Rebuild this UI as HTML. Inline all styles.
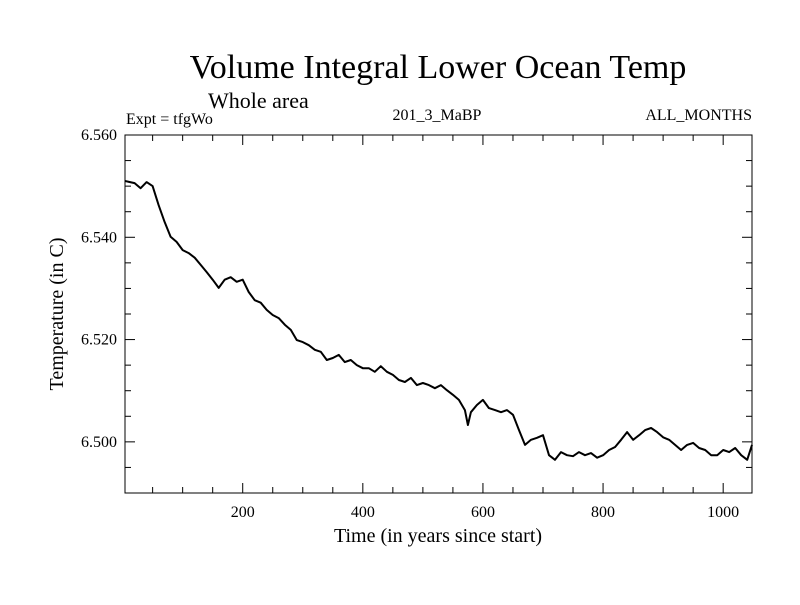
<!DOCTYPE html>
<html><head><meta charset="utf-8"><style>
body{margin:0;background:#fff}
svg text{font-family:"Liberation Serif",serif;fill:#000}
</style></head><body>
<svg id="c" width="800" height="600">
<text x="438" y="78" font-size="34" text-anchor="middle">Volume Integral Lower Ocean Temp</text>
<text x="208" y="108" font-size="22">Whole area</text>
<text x="126" y="124" font-size="16">Expt = tfgWo</text>
<text x="437" y="120" font-size="16" text-anchor="middle">201_3_MaBP</text>
<text x="752" y="120" font-size="16" text-anchor="end">ALL_MONTHS</text>
<text x="438" y="542" font-size="20" text-anchor="middle">Time (in years since start)</text>
<text transform="translate(63,314) rotate(-90)" font-size="20" text-anchor="middle">Temperature (in C)</text>
<g id="ticks"></g>
<path id="line" fill="none" stroke="#000" stroke-width="2" stroke-linejoin="round"></path>
<rect x="125" y="135" width="627" height="358" fill="none" stroke="#000" stroke-width="1"></rect>
</svg>
<script>
const years=[4,20,30,40,50,60,70,80,90,100,110,120,130,140,150,160,170,180,190,200,210,220,230,240,250,260,270,280,290,300,310,320,330,340,350,360,370,380,390,400,410,420,430,440,450,460,470,480,490,500,510,520,530,540,550,560,570,575,580,590,600,610,620,630,640,650,660,670,680,690,700,710,720,730,740,750,760,770,780,790,800,810,820,830,840,850,860,870,880,890,900,910,920,930,940,950,960,970,980,990,1000,1010,1020,1030,1040,1048];
const temps=[6.5510,6.5506,6.5496,6.5508,6.5500,6.5463,6.5430,6.5401,6.5391,6.5375,6.5369,6.5360,6.5346,6.5332,6.5317,6.5301,6.5317,6.5322,6.5313,6.5317,6.5293,6.5277,6.5272,6.5258,6.5248,6.5242,6.5229,6.5219,6.5199,6.5195,6.5189,6.5180,6.5176,6.5160,6.5164,6.5170,6.5156,6.5160,6.5150,6.5144,6.5144,6.5137,6.5148,6.5137,6.5131,6.5121,6.5117,6.5125,6.5111,6.5115,6.5111,6.5105,6.5111,6.5101,6.5092,6.5082,6.5062,6.5033,6.5058,6.5072,6.5082,6.5066,6.5062,6.5058,6.5062,6.5053,6.5023,6.4994,6.5004,6.5008,6.5013,6.4974,6.4965,6.4980,6.4974,6.4972,6.4980,6.4974,6.4978,6.4969,6.4974,6.4984,6.4990,6.5004,6.5019,6.5004,6.5013,6.5023,6.5027,6.5019,6.5009,6.5004,6.4994,6.4984,6.4994,6.4998,6.4988,6.4984,6.4974,6.4974,6.4984,6.4980,6.4988,6.4974,6.4965,6.4994];
const xTicks=[200,400,600,800,1000];
const yTicks=[6.500,6.520,6.540,6.560];
const yLabels=["6.500","6.520","6.540","6.560"];
const X0=125,X1=752,Y0=493,Y1=135,XMIN=4,XMAX=1048,YMIN=6.490,YMAX=6.560;
const sx=v=>X0+(v-XMIN)/(XMAX-XMIN)*(X1-X0);
const sy=v=>Y0-(v-YMIN)/(YMAX-YMIN)*(Y0-Y1);
const NS="http://www.w3.org/2000/svg",g=document.getElementById('ticks');
function ln(x1,y1,x2,y2,name){const l=document.createElementNS(NS,'line');
l.setAttribute('x1',x1);l.setAttribute('y1',y1);l.setAttribute('x2',x2);l.setAttribute('y2',y2);l.setAttribute('stroke','#000');


g.appendChild(l);}
function tx(x,y,s,anchor,name){const t=document.createElementNS(NS,'text');t.setAttribute('x',x);t.setAttribute('y',y);t.setAttribute('font-size','16');t.setAttribute('text-anchor',anchor);t.textContent=s;


g.appendChild(t);}
for(let v=50;v<=XMAX;v+=50){const x=sx(v),L=(v%200===0)?10:6;ln(x,Y0,x,Y0-L,'x-tick');ln(x,Y1,x,Y1+L,'x-tick-top');}
xTicks.forEach(v=>tx(sx(v),517,String(v),'middle','x-tick-label'));
for(let v=YMIN+0.005;v<=YMAX+1e-9;v+=0.005){const y=sy(v),maj=Math.abs(Math.round(v*1000)%20)<1e-6,L=maj?10:6;ln(X0,y,X0+L,y,'y-tick');ln(X1,y,X1-L,y,'y-tick-right');}
yTicks.forEach((v,i)=>tx(117,sy(v)+5,yLabels[i],'end','y-tick-label'));
document.getElementById('line').setAttribute('d',years.map((y,i)=>(i?'L':'M')+sx(y).toFixed(1)+','+sy(temps[i]).toFixed(1)).join(''));
</script>
</body></html>
